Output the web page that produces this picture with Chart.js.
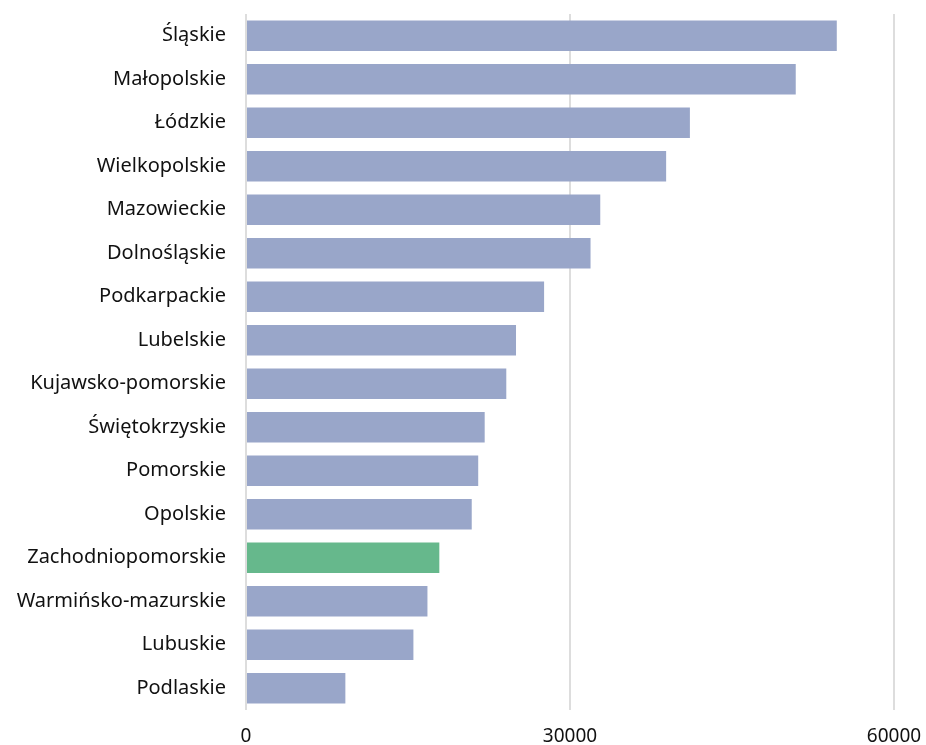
<!DOCTYPE html>
<html>
<head>
<meta charset="utf-8">
<script src="https://cdn.jsdelivr.net/npm/chart.js@4"></script>
<style>
    html, body { margin: 0; padding: 0; background: #fff; }
    #wrap { width: 926px; height: 745px; }
</style>
</head>
<body>
<div id="wrap"><canvas id="barChart"></canvas></div>
<script>
const regions = [
    "Śląskie", "Małopolskie", "Łódzkie", "Wielkopolskie", "Mazowieckie",
    "Dolnośląskie", "Podkarpackie", "Lubelskie", "Kujawsko-pomorskie",
    "Świętokrzyskie", "Pomorskie", "Opolskie", "Zachodniopomorskie",
    "Warmińsko-mazurskie", "Lubuskie", "Podlaskie"
];
const values = [54700, 50900, 41100, 38900, 32800, 31900, 27600, 25000, 24100,
    22100, 21500, 20900, 17900, 16800, 15500, 9200];
const xTicks = [0, 30000, 60000];
const highlight = "Zachodniopomorskie";

const colors = regions.map(r => r === highlight ? '#66b88c' : '#99a6c9');

new Chart(document.getElementById('barChart').getContext('2d'), {
    type: 'bar',
    data: {
        labels: regions,
        datasets: [{
            data: values,
            backgroundColor: colors,
            barPercentage: 0.7,
            categoryPercentage: 1.0
        }]
    },
    options: {
        indexAxis: 'y',
        responsive: true,
        maintainAspectRatio: false,
        animation: false,
        layout: { padding: { top: 14, right: 0, left: 0, bottom: 0 } },
        plugins: { legend: { display: false }, tooltip: { enabled: false } },
        scales: {
            x: {
                min: 0,
                max: 62960,
                afterBuildTicks: axis => { axis.ticks = xTicks.map(v => ({ value: v })); },
                afterFit: axis => {
                    axis.height = 35;
                    axis.paddingLeft = 0;
                    axis.paddingRight = 0;
                },
                grid: { color: '#dddddd', lineWidth: 2, drawTicks: false },
                border: { display: false },
                ticks: {
                    color: '#111',
                    padding: 15,
                    callback: v => String(v),
                    font: { family: 'Noto Sans', size: 19 }
                }
            },
            y: {
                afterFit: axis => {
                    axis.width = 246;
                    axis.paddingTop = 0;
                    axis.paddingBottom = 0;
                },
                grid: { display: false },
                border: { display: false },
                ticks: {
                    color: '#111',
                    padding: 12,
                    font: { family: 'Noto Sans', size: 20 }
                }
            }
        }
    }
});
</script>
</body>
</html>
